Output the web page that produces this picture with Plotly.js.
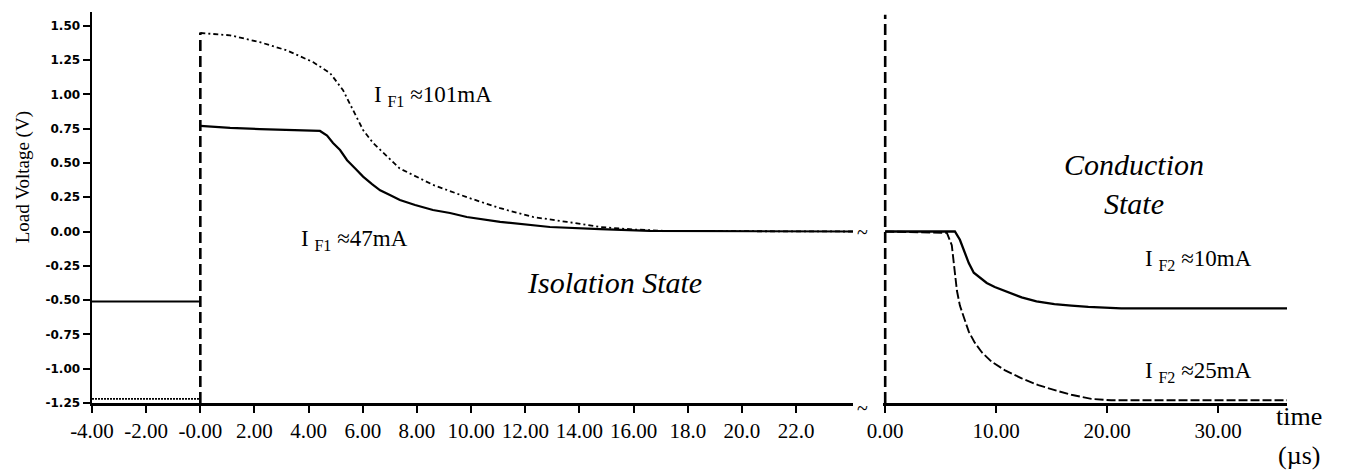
<!DOCTYPE html>
<html>
<head>
<meta charset="utf-8">
<script src="https://cdn.plot.ly/plotly-3.0.1.min.js"></script>
<style>html,body{margin:0;padding:0;background:#fff;}#chart{width:1345px;height:470px;}</style>
</head>
<body>
<div id="chart"></div>
<script>
// ---- Isolation state (left panel), time in µs ----
const tPre = [-4, -0.05];
const v47Pre = [-0.51, -0.51];
const v101Pre = [-1.22, -1.22];

const t47 = [0, 1.10, 2.2, 3.31, 4.42, 4.68, 4.9, 5.16, 5.42, 5.72, 6.01, 6.34, 6.64, 7.0, 7.37, 7.93, 8.59, 9.22, 9.84, 11.07, 12.91, 14.76, 16.6, 24.1];
const v47 = [0.77, 0.755, 0.747, 0.74, 0.733, 0.70, 0.645, 0.594, 0.52, 0.46, 0.40, 0.346, 0.30, 0.266, 0.23, 0.193, 0.157, 0.135, 0.106, 0.07, 0.033, 0.018, 0.004, 0];

const t101 = [0, 1.10, 2.2, 3.2, 4.16, 4.79, 5.27, 5.64, 6.01, 6.38, 6.9, 7.36, 8.59, 9.84, 11.07, 12.28, 13.54, 14.76, 15.98, 17.23, 24.1];
const v101 = [1.447, 1.43, 1.38, 1.32, 1.235, 1.155, 1.03, 0.886, 0.74, 0.645, 0.543, 0.46, 0.34, 0.25, 0.17, 0.106, 0.07, 0.033, 0.015, 0.004, 0];

const tSwitch1 = [0, 0];
const vSwitch1 = [-1.25, 1.45];

// ---- Conduction state (right panel) ----
const t10 = [0, 6.28, 6.73, 7.1, 7.53, 7.98, 8.43, 9.15, 9.87, 10.94, 12.29, 13.63, 15.25, 16.77, 18.3, 21.26, 36.2];
const v10 = [0, 0, -0.06, -0.135, -0.23, -0.30, -0.33, -0.375, -0.405, -0.44, -0.48, -0.51, -0.53, -0.54, -0.55, -0.56, -0.56];

const t25 = [0, 5.56, 6.0, 6.28, 6.46, 6.73, 7.09, 7.53, 8.07, 8.7, 9.6, 10.76, 12.29, 13.8, 15.43, 16.77, 18.57, 20.36, 36.2];
const v25 = [0, -0.01, -0.10, -0.28, -0.43, -0.54, -0.63, -0.73, -0.81, -0.88, -0.95, -1.01, -1.07, -1.12, -1.16, -1.19, -1.22, -1.23, -1.23];

const tSwitch2 = [0, 0];
const vSwitch2 = [-1.25, 1.58];

// ---- tick labels ----
const leftTickVals = [-4, -2, 0, 2, 4, 6, 8, 10, 12, 14, 16, 18, 20, 22];
const leftTickText = ["-4.00", "-2.00", "-0.00", "2.00", "4.00", "6.00", "8.00", "10.00", "12.00", "14.00", "16.00", "18.0", "20.0", "22.0"];
const rightTickVals = [0, 10, 20, 30];
const rightTickText = ["0.00", "10.00", "20.00", "30.00"];
const yTickVals = [-1.25, -1.0, -0.75, -0.5, -0.25, 0, 0.25, 0.5, 0.75, 1.0, 1.25, 1.5];
const yTickText = ["-1.25", "-1.00", "-0.75", "-0.50", "-0.25", "0.00", "0.25", "0.50", "0.75", "1.00", "1.25", "1.50"];

const K = '#000';
const serif = 'Liberation Serif, Times New Roman, serif';

function line(x, y, xa, width, dash) {
  return {x: x, y: y, xaxis: xa, yaxis: 'y', type: 'scatter', mode: 'lines',
          line: {color: K, width: width, dash: dash}, hoverinfo: 'skip'};
}

const traces = [
  line(tPre, v47Pre, 'x', 2, 'solid'),
  line(tPre, v101Pre, 'x', 1.8, '2px,1px'),
  line(t47, v47, 'x', 2.2, 'solid'),
  line(t101, v101, 'x', 1.8, '5px,3px,2px,3px'),
  line(tSwitch1, vSwitch1, 'x', 2.6, '11px,5px'),
  line(t10, v10, 'x2', 2.3, 'solid'),
  line(t25, v25, 'x2', 1.9, '9px,3px'),
  line(tSwitch2, vSwitch2, 'x2', 2.6, '11px,5px')
];

const axisCommon = {
  showline: true, linecolor: K, linewidth: 2.5, showgrid: false, zeroline: false,
  ticks: 'outside', ticklen: 7, tickwidth: 2, tickcolor: K,
  tickfont: {family: serif, size: 21, color: K}, anchor: 'y', fixedrange: true
};

function ann(xref, x, y, text, size, extra) {
  return Object.assign({xref: xref, yref: xref === 'paper' ? 'paper' : 'y', x: x, y: y, text: text,
    showarrow: false, xanchor: 'center', yanchor: 'middle',
    font: {family: serif, size: size, color: K}}, extra || {});
}

const SUB = '<sub style="font-size:85%">';
const annotations = [
  ann('x', 8.6, 0.99, 'I ' + SUB + 'F1</sub> ≈101mA', 23),
  ann('x', 5.71, -0.06, 'I ' + SUB + 'F1</sub> ≈47mA', 23),
  ann('x', 15.31, -0.375, '<i>Isolation State</i>', 30),
  ann('x2', 22.4, 0.346, '<i>Conduction<br>State</i>', 30),
  ann('x2', 28.2, -0.21, 'I ' + SUB + 'F2</sub> ≈10mA', 23),
  ann('x2', 28.2, -1.024, 'I ' + SUB + 'F2</sub> ≈25mA', 23),
  ann('paper', 1.01, -0.0358, 'time', 26),
  ann('paper', 1.01, -0.1355, '(µs)', 26),
  ann('paper', -0.0575, 0.578, 'Load Voltage (V)', 19, {textangle: -90}),
  ann('paper', 0.6444, 0.4373, '~', 20),
  ann('paper', 0.6444, -0.0128, '~', 20)
];

const layout = {
  width: 1345, height: 470,
  margin: {l: 92, r: 58, t: 12, b: 67},
  paper_bgcolor: '#fff', plot_bgcolor: '#fff',
  showlegend: false,
  xaxis: Object.assign({}, axisCommon, {domain: [0, 0.6368], range: [-4, 24.1], tickmode: 'array', tickvals: leftTickVals, ticktext: leftTickText}),
  xaxis2: Object.assign({}, axisCommon, {domain: [0.6619, 1], range: [-0.2, 36.2], tickmode: 'array', tickvals: rightTickVals, ticktext: rightTickText}),
  yaxis: {
    range: [-1.25, 1.6], anchor: 'x', showline: true, linecolor: K, linewidth: 2.5,
    showgrid: false, zeroline: false, ticks: 'outside', ticklen: 7, tickwidth: 2, tickcolor: K,
    tickmode: 'array', tickvals: yTickVals, ticktext: yTickText,
    tickfont: {family: 'DejaVu Sans, sans-serif', size: 12, color: K, weight: 'bold'},
    fixedrange: true
  },
  annotations: annotations
};

Plotly.newPlot('chart', traces, layout, {staticPlot: true, displayModeBar: false});
</script>
</body>
</html>
